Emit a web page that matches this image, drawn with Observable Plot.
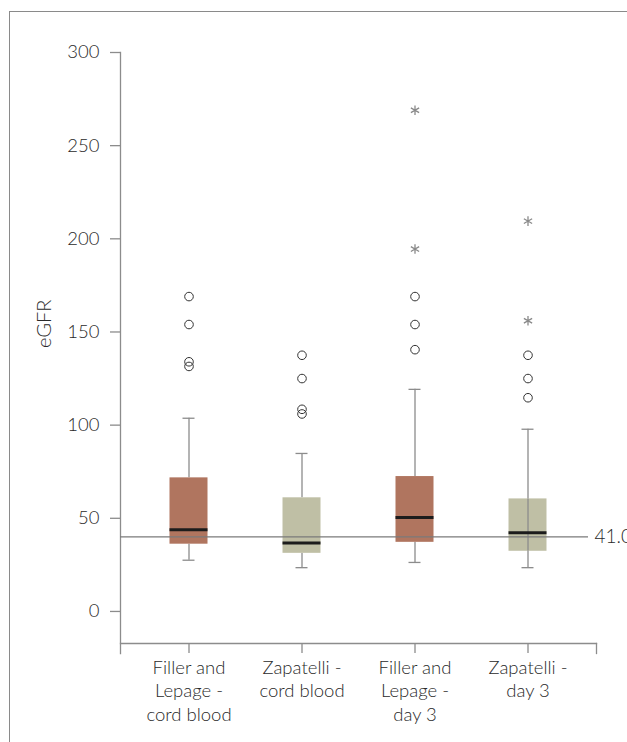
<!DOCTYPE html>
<html><head><meta charset="utf-8">
<script src="https://cdn.jsdelivr.net/npm/d3@7"></script>
<script src="https://cdn.jsdelivr.net/npm/@observablehq/plot@0.6"></script>
<style>
body{margin:0;background:#fff;}
#wrap{position:relative;width:627px;height:742px;overflow:hidden;font-family:Lato,sans-serif;}
#border{position:absolute;left:9px;top:11px;right:-5px;bottom:-5px;border:1px solid #8a8a8a;}
#wrap svg{position:absolute;left:0;top:0;}
</style></head><body><div id="wrap"><div id="border"></div></div>
<script>
// ---- data ----
const categories = ["Filler and Lepage - cord blood","Zapatelli - cord blood","Filler and Lepage - day 3","Zapatelli - day 3"];
const xTickLabels = ["Filler and\nLepage -\ncord blood","Zapatelli -\ncord blood","Filler and\nLepage -\nday 3","Zapatelli -\nday 3"];
const methods = ["Filler and Lepage","Zapatelli","Filler and Lepage","Zapatelli"];
const methodDomain = ["Filler and Lepage","Zapatelli"];
const boxColors = ["#b0755f","#bfbfa5"];
const whiskerLow  = [27.5, 23.5, 26.3, 23.5];
const q1          = [36.1, 31.2, 37.1, 32.3];
const median      = [43.8, 36.8, 50.4, 42.3];
const q3          = [71.7, 61.0, 72.4, 60.4];
const whiskerHigh = [103.7, 84.8, 119.2, 97.8];
const whiskerShowsThroughBox = [false, false, false, true];
const circleOutliers = [[169, 154, 134, 131.5],[137.5, 125, 108.5, 106],[169, 154, 140.5],[137.5, 125, 114.7]];
const starOutliers   = [[], [], [269, 194.5], [209.5, 156]];
const refValue = 40;
const refLabel = "41.0";
const yTicks = [0, 50, 100, 150, 200, 250, 300];
const yLabel = "eGFR";

// ---- tables ----
const rows = categories.map((c,i)=>({cat:c, method:methods[i], lo:whiskerLow[i], q1:q1[i], med:median[i], q3:q3[i], hi:whiskerHigh[i], through:whiskerShowsThroughBox[i]}));
const circles = categories.flatMap((c,i)=>circleOutliers[i].map(v=>({cat:c, v})));
const stars = categories.flatMap((c,i)=>starOutliers[i].map(v=>({cat:c, v})));

const W=627, H=742, MT=52, MB=99;
const yDomain=[-17.2, 300];
const axisColor="#8c8c8c";
const textColor="#2a2a2a";
const boxInset=37.5, capInset=50.5;

const chart = Plot.plot({
  width:W, height:H, marginTop:MT, marginBottom:MB, marginLeft:120, marginRight:31,
  style:{fontFamily:"Lato, sans-serif", fontWeight:300, color:textColor, background:"transparent"},
  x:{type:"band", domain:categories, paddingInner:0, paddingOuter:0.106},
  y:{domain:yDomain},
  color:{domain:methodDomain, range:boxColors},
  marks:[
    Plot.frame({anchor:"bottom", stroke:axisColor, strokeWidth:1.3}),
    Plot.frame({anchor:"left", insetBottom:-10, stroke:axisColor, strokeWidth:1.3}),
    Plot.frame({anchor:"right", insetTop:H-MT-MB, insetBottom:-10, stroke:axisColor, strokeWidth:1.3}),
    Plot.axisY(yTicks, {tickSize:10, tickPadding:11, fontSize:18.5, label:null, stroke:axisColor, strokeWidth:1.3, fill:textColor}),
    Plot.axisX({tickSize:10, tickPadding:3.5, fontSize:18.5, lineHeight:1.27, label:null, stroke:axisColor, strokeWidth:1.3, fill:textColor,
      tickFormat:d=>xTickLabels[categories.indexOf(d)]}),
    Plot.text([yLabel], {frameAnchor:"left", dx:-76, rotate:-90, fontSize:20, fill:textColor}),
    // whiskers
    Plot.ruleX(rows, {x:"cat", y1:"q3", y2:"hi", stroke:axisColor, strokeWidth:1.3}),
    Plot.ruleX(rows, {x:"cat", y1:"lo", y2:"q1", stroke:axisColor, strokeWidth:1.3}),
    Plot.tickY(rows, {x:"cat", y:"hi", insetLeft:capInset, insetRight:capInset, stroke:axisColor, strokeWidth:1.3}),
    Plot.tickY(rows, {x:"cat", y:"lo", insetLeft:capInset, insetRight:capInset, stroke:axisColor, strokeWidth:1.3}),
    // boxes
    Plot.barY(rows, {x:"cat", y1:"q1", y2:"q3", fill:"method", insetLeft:boxInset, insetRight:boxInset}),
    Plot.ruleX(rows.filter(d=>d.through), {x:"cat", y1:"q1", y2:"q3", stroke:axisColor, strokeWidth:1.3}),
    // reference line
    Plot.ruleY([refValue], {stroke:"#7a7a7a", strokeWidth:1.2, insetRight:8}),
    // medians
    Plot.tickY(rows, {x:"cat", y:"med", insetLeft:boxInset, insetRight:boxInset, stroke:"#1c1c1c", strokeWidth:3}),
    // outliers
    Plot.dot(circles, {x:"cat", y:"v", r:4.3, stroke:"#333", strokeWidth:1, fill:"none"}),
    Plot.dot(stars, {x:"cat", y:"v", symbol:"asterisk", r:4.5, stroke:"#8a8a8a", strokeWidth:1.3}),
    Plot.text([refLabel], {y:refValue, frameAnchor:"right", textAnchor:"start", dx:-2, fontSize:19, fill:textColor})
  ]
});

document.getElementById("wrap").appendChild(chart);
</script>
</body></html>
